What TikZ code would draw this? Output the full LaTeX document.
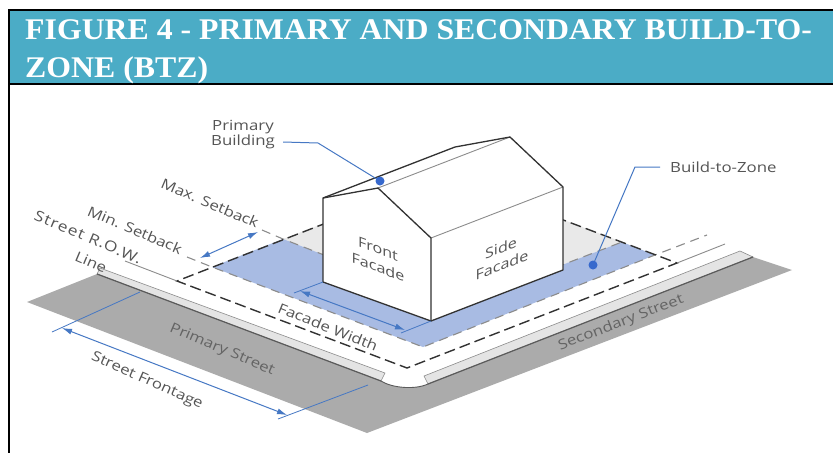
\documentclass[tikz,border=0pt]{standalone}
\usepackage{fontspec}
\newfontfamily\labelfont{Open Sans}
\newfontfamily\spacedfont[LetterSpace=6]{Open Sans}
\newfontfamily\headfont{Liberation Serif}
\usetikzlibrary{arrows.meta}
\definecolor{headblue}{RGB}{75,172,198}
\definecolor{zoneblue}{RGB}{168,187,227}
\definecolor{dimblue}{RGB}{70,120,196}
\definecolor{dotblue}{RGB}{55,105,205}
\definecolor{streetgray}{RGB}{171,171,171}
\definecolor{curbgray}{RGB}{228,228,228}
\definecolor{lotgray}{RGB}{233,233,233}
\definecolor{txtgray}{RGB}{85,85,85}
\definecolor{strtxt}{RGB}{100,100,100}
\definecolor{linegray}{RGB}{140,140,140}
\definecolor{darkline}{RGB}{50,50,50}
\begin{document}
\begin{tikzpicture}[x=1pt,y=-1pt,
  lbl/.style={font=\labelfont\fontsize{14}{16}\selectfont, text=txtgray, inner sep=0pt},
  flat/.style={lbl, xscale=1.2},
  onground/.style={lbl, rotate=#1, xscale=1.2},
  onwall/.style={lbl, yslant=#1, xscale=1.15},
  headtxt/.style={anchor=base west, inner sep=0pt, text=white,
    font=\headfont\bfseries\fontsize{30}{30}\selectfont, xscale=1.06},
  blackrule/.style={line width=2pt, black},
  curbstyle/.style={fill=curbgray, draw=linegray, line width=0.6pt},
  curbedge/.style={draw=darkline!80, line width=1.2pt},
  setback/.style={draw=linegray, line width=1.1pt, dash pattern=on 9pt off 6pt},
  lotline/.style={draw=darkline, line width=1.4pt, dash pattern=on 11pt off 5pt},
  thinline/.style={draw=linegray, line width=0.9pt},
  bldg/.style={draw=darkline, line width=1.3pt, line join=round},
  bldgfaint/.style={draw=linegray, line width=0.9pt},
  dim/.style={draw=dimblue, line width=1pt, {Latex[length=10pt,width=6pt]}-{Latex[length=10pt,width=6pt]}},
  dimthin/.style={draw=dimblue, line width=0.8pt},
  leader/.style={draw=dimblue, line width=1pt},
  dotmark/.style={fill=dotblue}]
\useasboundingbox (0,0) rectangle (833,453);
\fill[white] (0,0) rectangle (833,453);
% header
\fill[headblue] (10,11) rectangle (833,83);
\draw[blackrule] (8,10) -- (833,10);
\draw[blackrule] (9,84) -- (833,84);
\draw[blackrule] (9,9) -- (9,453);
\node[headtxt] (h1) at (25,39) {FIGURE 4 - PRIMARY AND SECONDARY BUILD-TO-};
\node[headtxt] (h2) at (25,77) {ZONE (BTZ)};
% streets
\fill[streetgray] (27,302) -- (97,274) -- (381,381) .. controls (392,388) and (415,390) .. (428,384)
  -- (753,257) -- (792,270) -- (367,433) -- cycle;
\filldraw[curbstyle] (100,268) -- (385,373) -- (381,381) -- (97,274) -- cycle;
\draw[curbedge] (97,274) -- (381,381);
\filldraw[curbstyle] (424,376) -- (740,251) -- (753,257) -- (428,384) -- cycle;
\draw[curbedge] (428,384) -- (753,257);
\draw[draw=darkline!80, line width=0.9pt] (381,381) .. controls (392,388) and (415,390) .. (428,384);
% lot and build-to-zone
\fill[lotgray] (283,239) -- (447,176) -- (622,242) -- (455,306) -- cycle;
\fill[zoneblue] (212,267) -- (423,347) -- (655,255) -- (622,242) -- (455,306) -- (283,239) -- cycle;
\draw[setback] (187,257) -- (212,267) -- (423,347) -- (655,255) -- (707,235);
\draw[setback] (262,230) -- (283,239) -- (455,306) -- (622,242);
\draw[lotline] (447,176) -- (177,281) -- (407,368) -- (677,263) -- cycle;
\draw[thinline] (125,261) -- (177,281);
\draw[thinline] (677,263) -- (725,244);
% building
\coordinate (bA) at (323,282); \coordinate (bB) at (431,321); \coordinate (bC) at (563,270);
\coordinate (bD) at (323,198); \coordinate (bE) at (431,238); \coordinate (bF) at (378,188);
\coordinate (bG) at (510,137); \coordinate (bD2) at (455,147); \coordinate (bE2) at (563,187);
\fill[white] (bA) -- (bB) -- (bC) -- (bE2) -- (bG) -- (bD2) -- (bD) -- cycle;
\draw[bldgfaint] (bF) -- (bG);
\draw[bldgfaint] (bE) -- (bE2);
\draw[bldg] (bA) -- (bB) -- (bC) -- (bE2) -- (bG) -- (bD2) -- (bD) -- cycle;
\draw[bldg] (bD) -- (bF) -- (bE) -- (bB);
% dimensions
\draw[dim] (200,258) -- (258,232);
\draw[dimthin] (294,293) -- (bA);
\draw[dimthin] (401,333) -- (bB);
\draw[dim] (300,291) -- (405,330);
\draw[dimthin] (52,332) -- (140,292);
\draw[dimthin] (278,419) -- (368,385);
\draw[dim] (62,328) -- (287,415);
% labels
\node[flat] (pri) at (243,127) {Primary};
\node[flat] (bld) at (243,142) {Building};
\node[flat, anchor=west] (btz) at (670,167) {Build-to-Zone};
\node[onground=-23] (maxs) at (210,203) {Max. Setback};
\node[onground=-23] (mins) at (135,230) {Min. Setback};
\node[onground=-23, font=\spacedfont\fontsize{14.5}{16}\selectfont] (row1) at (88,237) {Street R.O.W.};
\node[onground=-23] (row2) at (91,262) {Line};
\node[onground=-22] (fw) at (328,327) {Facade Width};
\node[onground=-23, text=strtxt] (pst) at (222,350) {Primary Street};
\node[onground=-24] (sfr) at (147,381) {Street Frontage};
\node[onground=21, text=strtxt] (sst) at (621,323) {Secondary Street};
\node[onwall=-0.37] (ff1) at (378,249) {Front};
\node[onwall=-0.37] (ff2) at (378,267) {Facade};
\node[onwall=0.386] (sf1) at (501,248) {Side};
\node[onwall=0.386] (sf2) at (502,265) {Facade};
% leaders
\coordinate (pbknee) at (318,143);
\coordinate (pbdot) at (380,181);
\coordinate (bzknee) at (635,167);
\coordinate (bzdot) at (593,265);
\draw[leader] ([xshift=8pt]bld.east) -- (pbknee) -- (pbdot);
\draw[leader] ([xshift=-10pt]btz.west) -- (bzknee) -- (bzdot);
\fill[dotmark] (pbdot) circle (4.5);
\fill[dotmark] (bzdot) circle (4.5);
\end{tikzpicture}
\end{document}
